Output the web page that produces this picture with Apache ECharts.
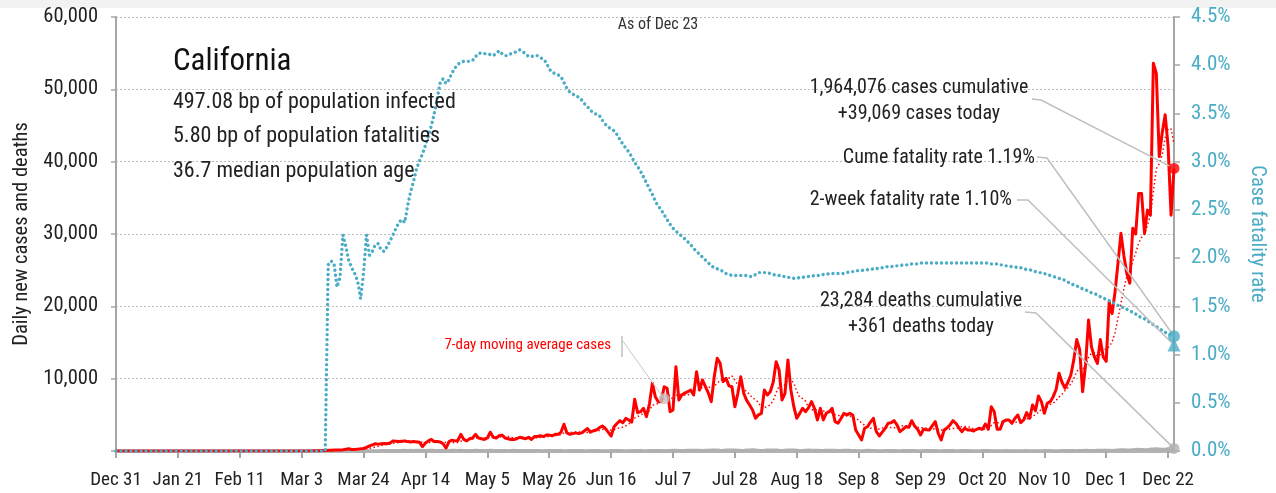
<!DOCTYPE html>
<html><head><meta charset="utf-8">
<script src="https://cdn.jsdelivr.net/npm/echarts/dist/echarts.min.js"></script>
<style>html,body{margin:0;padding:0;background:#fff}#c{width:1276px;height:493px}</style>
</head><body><div id="c"></div>
<script>
// ---------- DATA ----------
const tickLabels = ["Dec 31","Jan 21","Feb 11","Mar 3","Mar 24","Apr 14","May 5","May 26","Jun 16","Jul 7","Jul 28","Aug 18","Sep 8","Sep 29","Oct 20","Nov 10","Dec 1","Dec 22"];
const startDate = [2019, 11, 31]; // Dec 31, 2019 ; one category per day
const dayCount = 360;

const cases = [
0,0,0,0,0,0,0,0,0,0,0,0,0,0,0,0,0,0,0,0,
0,0,0,0,0,0,0,0,0,0,0,0,0,0,0,0,0,0,0,0,
0,0,0,0,0,0,0,0,0,0,0,0,0,0,0,0,0,0,0,0,
0,0,0,0,0,10,15,25,35,45,
60,80,100,120,150,150,130,180,250,300,
200,220,260,300,350,500,700,850,1000,950,
1000,1050,1000,1100,1400,1350,1300,1350,1400,1300,
1250,1300,1250,1200,600,1100,1400,1600,1300,1300,
1250,1000,400,1300,1500,1400,1450,2300,1600,1400,
1700,1800,2300,1800,1700,1600,1800,2600,1900,1800,
2100,2200,1800,1700,1600,1600,1700,1900,1800,1700,
1900,1600,2000,2000,2100,2000,2200,2200,2100,2300,
2300,2600,3700,2500,2300,2400,2500,2400,2500,2800,
3100,2600,2800,2900,3200,3460,3140,2600,2070,3360,
3800,4190,3910,4520,4290,4000,7150,5300,5440,5900,
4750,6500,9360,7510,6800,6820,8890,8670,5440,5670,
11660,7050,7740,8000,8200,8440,7740,10970,8440,9820,
8890,8000,6820,10280,12820,12130,9590,10050,9000,8890,
6130,7970,10280,7970,7000,6360,5670,4520,5000,5210,
8440,7740,8200,9500,12350,11200,7050,7970,12590,8440,
6130,4520,5200,5900,5440,6000,6820,5900,4290,5900,
4290,5210,5440,5900,4060,3830,4500,5210,5000,5210,
4980,2900,2200,1520,3140,3360,4000,4520,2670,2070,
2600,3140,3830,3900,4190,3600,2670,3000,3360,3280,
4190,3460,3000,2210,3000,2950,2900,3500,4060,2450,
1520,2900,3200,3600,4190,3830,3200,2670,3140,2900,
2900,2770,3000,3140,3000,3730,3000,6130,5440,3000,
3000,4060,4290,4290,3830,4500,4980,3910,4290,5300,
4520,6360,5570,7600,6820,5210,6600,6820,7510,8500,
10750,9500,8700,9500,10500,12600,15400,14000,8200,12000,
18100,14400,13000,12100,15400,13000,12400,20600,19000,22000,
26000,30100,27000,24500,23200,30800,30000,35600,35600,30100,
33300,32600,53600,52200,40700,44000,46500,42100,32600,39069
];

const deaths = [
0,0,0,0,0,0,0,0,0,0,0,0,0,0,0,0,0,0,0,0,
0,0,0,0,0,0,0,0,0,0,0,0,0,0,0,0,0,0,0,0,
0,0,0,0,0,0,0,0,0,0,0,0,0,0,0,0,0,0,0,0,
0,0,0,0,0,0,0,0,0,0,
1,2,2,3,4,5,6,8,10,12,
15,18,20,22,25,30,35,40,45,50,
55,60,65,70,75,68,80,85,90,70,
90,85,95,100,60,70,95,105,90,85,
80,65,50,85,95,90,85,100,80,70,
75,80,90,85,60,55,80,90,85,80,
75,70,60,50,85,90,80,75,70,65,
70,80,75,70,55,50,75,85,80,70,
70,65,50,45,70,75,65,60,55,40,
45,70,65,60,55,50,40,45,65,70,
60,55,50,40,45,60,70,65,60,45,
40,60,75,70,80,65,45,55,85,90,
95,80,70,55,90,100,105,110,95,75,
100,120,130,140,125,95,85,130,145,150,
140,120,90,80,135,150,160,140,110,85,
90,140,150,145,130,100,80,120,135,140,
130,110,80,70,115,125,120,110,90,70,
75,110,115,105,95,75,60,95,100,90,
85,70,50,45,80,90,85,80,60,45,
50,80,85,80,75,55,45,70,80,75,
70,60,45,40,65,75,70,65,55,40,
45,60,70,65,60,50,40,55,60,55,
50,45,35,40,55,60,55,50,45,35,
40,50,55,50,45,40,30,40,50,55,
50,45,40,35,50,55,60,55,50,40,
45,70,80,75,70,55,40,60,80,90,
85,70,60,90,110,120,115,100,80,120,
150,170,165,150,130,180,220,230,210,190,
170,260,280,300,290,250,230,320,340,361
];

// cumulative case fatality rate, %
const cfr = [
0,0,0,0,0,0,0,0,0,0,0,0,0,0,0,0,0,0,0,0,
0,0,0,0,0,0,0,0,0,0,0,0,0,0,0,0,0,0,0,0,
0,0,0,0,0,0,0,0,0,0,0,0,0,0,0,0,0,0,0,0,
0,0,0,0,0,0,0,0,0,0,0,0,
1.93,1.97,1.94,1.70,1.80,2.24,2.12,1.97,
1.90,1.84,1.76,1.58,1.85,2.24,2.03,2.07,2.14,2.15,
2.08,2.07,2.12,2.18,2.24,2.31,2.37,2.40,2.37,2.55,
2.69,2.80,2.93,3.01,3.08,3.17,3.27,3.37,3.50,3.65,
3.82,3.86,3.81,3.85,3.92,3.97,4.01,4.03,4.04,4.04,
4.04,4.05,4.09,4.12,4.13,4.12,4.12,4.11,4.10,4.12,
4.15,4.12,4.10,4.10,4.12,4.13,4.14,4.16,4.14,4.12,
4.09,4.09,4.10,4.10,4.08,4.06,4.03,3.96,3.93,3.91,
3.90,3.88,3.82,3.76,3.72,3.70,3.68,3.67,3.64,3.60,
3.57,3.53,3.51,3.49,3.48,3.43,3.39,3.36,3.34,3.32,
3.28,3.23,3.18,3.14,3.10,3.05,2.99,2.95,2.90,2.84,
2.78,2.72,2.66,2.59,2.54,2.50,2.45,2.40,2.35,2.31,
2.28,2.25,2.23,2.20,2.17,2.14,2.10,2.07,2.04,2.01,
1.98,1.95,1.92,1.90,1.89,1.88,1.86,1.84,1.83,1.82,
1.82,1.82,1.82,1.82,1.82,1.81,1.81,1.83,1.85,1.85,
1.85,1.85,1.84,1.83,1.82,1.82,1.81,1.81,1.80,1.80,
1.79,1.79,1.80,1.80,1.81,1.81,1.81,1.82,1.82,1.82,
1.83,1.83,1.84,1.84,1.84,1.84,1.84,1.84,1.85,1.86,
1.86,1.87,1.87,1.87,1.88,1.88,1.88,1.89,1.89,1.90,
1.90,1.91,1.91,1.91,1.92,1.92,1.92,1.93,1.93,1.93,
1.94,1.94,1.94,1.95,1.95,1.95,1.95,1.95,1.95,1.95,
1.95,1.95,1.95,1.95,1.95,1.95,1.95,1.95,1.95,1.95,
1.95,1.95,1.95,1.95,1.95,1.95,1.95,1.94,1.94,1.94,
1.93,1.93,1.92,1.92,1.91,1.91,1.90,1.90,1.89,1.88,
1.88,1.87,1.86,1.85,1.85,1.84,1.83,1.82,1.81,1.80,
1.79,1.78,1.77,1.75,1.74,1.72,1.71,1.70,1.68,1.67,
1.66,1.64,1.63,1.62,1.60,1.59,1.57,1.56,1.54,1.53,
1.51,1.50,1.48,1.47,1.45,1.44,1.42,1.40,1.38,1.37,
1.35,1.33,1.31,1.29,1.27,1.25,1.23,1.22,1.20,1.19
];

const twoWeekRate = 1.10;
const cumulativeCases = 1964076;
const cumulativeDeaths = 23284;
const maPointerIndex = 186;
const titleText = "California";
const statLines = ["497.08 bp of population infected", "5.80 bp of population fatalities", "36.7 median population age"];
const asOfText = "As of Dec 23";

// ---------- BUILD ----------
const monthNames = ["Jan","Feb","Mar","Apr","May","Jun","Jul","Aug","Sep","Oct","Nov","Dec"];
const dates = [];
for (let i = 0; i < dayCount; i++) {
  const d = new Date(startDate[0], startDate[1], startDate[2] + i);
  dates.push(monthNames[d.getMonth()] + " " + d.getDate());
}
// 7-day trailing moving average of daily cases
const ma = cases.map((v, i) => {
  if (i < 6) return null;
  let s = 0; for (let k = i - 6; k <= i; k++) s += cases[k];
  return +(s / 7).toFixed(1);
});
const last = dayCount - 1;
const fmt = n => n.toLocaleString('en-US');

const FONT = '"Roboto Condensed", "Liberation Sans Narrow", sans-serif';
const TEAL = '#4BACC6';
const RED = '#FF0000';
const INK = '#222222';

const chart = echarts.init(document.getElementById('c'), null, {renderer: 'canvas'});
const option = {
  animation: false,
  backgroundColor: '#ffffff',
  textStyle: {fontFamily: FONT},
  grid: {left: 116, right: 95, top: 17, bottom: 42, containLabel: false},
  xAxis: {
    type: 'category', data: dates, boundaryGap: false,
    axisLine: {lineStyle: {color: '#b3b3b3', width: 3}},
    axisTick: {show: true, interval: 20, length: 7, lineStyle: {color: '#a6a6a6', width: 2}},
    axisLabel: {interval: 20, formatter: (v, i) => tickLabels[Math.round(i / 21)] || '', fontSize: 19, color: INK, margin: 20, fontFamily: FONT},
    splitLine: {show: false}
  },
  yAxis: [{
    type: 'value', min: 0, max: 60000, interval: 10000,
    name: 'Daily new cases and deaths', nameLocation: 'middle', nameRotate: 90, nameGap: 84,
    nameTextStyle: {fontSize: 20.5, color: INK, fontFamily: FONT},
    axisLine: {show: true, lineStyle: {color: '#a6a6a6', width: 2}},
    axisTick: {show: true, length: 5, lineStyle: {color: '#a6a6a6', width: 1.5}},
    axisLabel: {formatter: v => v === 0 ? '' : fmt(v), fontSize: 20.5, color: INK, margin: 18, fontFamily: FONT},
    splitLine: {show: true, lineStyle: {color: '#bdbdbd', width: 1, type: [2, 2]}}
  }, {
    type: 'value', min: 0, max: 4.5, interval: 0.5, position: 'right',
    name: 'Case fatality rate', nameLocation: 'middle', nameRotate: -90, nameGap: 73,
    nameTextStyle: {fontSize: 20.5, color: TEAL, fontFamily: FONT},
    axisLine: {show: true, lineStyle: {color: '#a6a6a6', width: 2}},
    axisTick: {show: true, length: 6, lineStyle: {color: '#a6a6a6', width: 1.5}},
    axisLabel: {formatter: v => v.toFixed(1) + '%', fontSize: 21, color: TEAL, margin: 17, fontFamily: FONT},
    splitLine: {show: false}
  }],
  series: [
    {name: 'deaths', type: 'line', data: deaths, symbol: 'none', z: 3,
     lineStyle: {color: '#b0b0b0', width: 3}},
    {name: '7-day MA', type: 'line', data: ma, symbol: 'none', z: 4,
     lineStyle: {color: RED, width: 1.5, type: [1.5, 2.5]}},
    {name: 'cases', type: 'line', data: cases, symbol: 'none', z: 5,
     lineStyle: {color: RED, width: 3, join: 'round'}},
    {name: 'cfr', type: 'line', yAxisIndex: 1, data: cfr, symbol: 'none', z: 6,
     lineStyle: {color: TEAL, width: 3.4, type: [0.01, 5], cap: 'round'}},
    {name: 'markerCases', type: 'scatter', data: [[last, cases[last]]], symbol: 'circle', symbolSize: 11, z: 10,
     itemStyle: {color: RED}},
    {name: 'markerDeaths', type: 'scatter', data: [[last, deaths[last]]], symbol: 'circle', symbolSize: 11, z: 10,
     itemStyle: {color: '#b0b0b0'}},
    {name: 'markerCfr', type: 'scatter', yAxisIndex: 1, data: [[last, cfr[last]]], symbol: 'circle', symbolSize: 12, z: 10,
     itemStyle: {color: TEAL}},
    {name: 'marker2wk', type: 'scatter', yAxisIndex: 1, data: [[last, twoWeekRate]], symbol: 'triangle', symbolSize: 13, z: 10,
     itemStyle: {color: TEAL}},
    {name: 'markerMA', type: 'scatter', data: [[maPointerIndex, ma[maPointerIndex]]], symbol: 'circle', symbolSize: 11, z: 10,
     itemStyle: {color: '#c4c4c4'}}
  ]
};
chart.setOption(option);

const px = (si, pt) => chart.convertToPixel({seriesIndex: si}, pt);
const pCases = px(4, [last, cases[last]]);
const pDeaths = px(5, [last, deaths[last]]);
const pCfr = px(6, [last, cfr[last]]);
const p2wk = px(7, [last, twoWeekRate]);
const pMA = px(8, [maPointerIndex, ma[maPointerIndex]]);

const LEAD = {stroke: '#bfbfbf', lineWidth: 1.5, fill: null};
const txt = (text, x, y, size, align, color) => ({
  type: 'text', z: 20, style: {text, x, y, fontSize: size, fontFamily: FONT, fill: color || INK, align, verticalAlign: 'middle'}
});
chart.setOption({
  graphic: [
    {type: 'rect', shape: {x: 0, y: 0, width: 1276, height: 8}, style: {fill: '#f2f2f2'}, z: 0},
    txt(titleText, 173, 62, 31, 'left', '#111'),
    txt(statLines[0], 173, 102, 22, 'left'),
    txt(statLines[1], 173, 136, 22, 'left'),
    txt(statLines[2], 173, 171, 22, 'left'),
    txt(asOfText, 658, 25, 16, 'center', '#333'),
    txt(fmt(cumulativeCases) + ' cases cumulative', 919, 88, 20, 'center'),
    txt('+' + fmt(cases[last]) + ' cases today', 919, 114, 20, 'center'),
    txt('Cume fatality rate ' + cfr[last].toFixed(2) + '%', 1035, 158, 20, 'right'),
    txt('2-week fatality rate ' + twoWeekRate.toFixed(2) + '%', 1012, 200, 20, 'right'),
    txt(fmt(cumulativeDeaths) + ' deaths cumulative', 921, 301, 20, 'center'),
    txt('+' + fmt(deaths[last]) + ' deaths today', 921, 327, 20, 'center'),
    txt('7-day moving average cases', 611, 345, 15, 'right', RED),
    {type: 'polyline', z: 8, shape: {points: [[1032, 99], [1041, 100], pCases]}, style: LEAD},
    {type: 'polyline', z: 8, shape: {points: [[1037, 157], [1047, 158], pCfr]}, style: LEAD},
    {type: 'polyline', z: 8, shape: {points: [[1017, 200], [1028, 200], p2wk]}, style: LEAD},
    {type: 'polyline', z: 8, shape: {points: [[1025, 312], [1036, 313], pDeaths]}, style: LEAD},
    {type: 'polyline', z: 8, shape: {points: [[622, 336], [622, 357]]}, style: LEAD},
    {type: 'polyline', z: 8, shape: {points: [[622, 340], pMA]}, style: {stroke: '#c8c8c8', lineWidth: 1, fill: null}}
  ]
});
</script>
</body></html>
